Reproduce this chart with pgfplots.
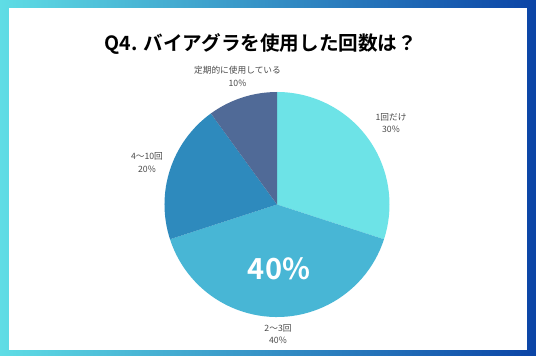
\documentclass[border=0pt]{standalone}
\usepackage{pgfplots}
\pgfplotsset{compat=1.18}
\usepackage{fontspec}
\setmainfont{Noto Sans CJK JP}[BoldFont={Noto Sans CJK JP Bold}]
\definecolor{bgL}{HTML}{5FDDE5}
\definecolor{bgR}{HTML}{0B44A6}
\definecolor{c1}{HTML}{6DE3E7}
\definecolor{c2}{HTML}{48B6D5}
\definecolor{c3}{HTML}{2E8ABD}
\definecolor{c4}{HTML}{506A97}
\definecolor{lbl}{HTML}{4A4A4A}
\begin{document}
\begin{tikzpicture}[x=1pt,y=1pt]
\shade[left color=bgL,right color=bgR] (0,0) rectangle (536,356);
\fill[white] (9,6) rectangle (527,348);
\node[font=\bfseries\fontsize{19.6}{22}\selectfont, text=black] at (261,312) {Q4. バイアグラを使用した回数は？};
\begin{axis}[at={(277pt,151.5pt)}, anchor=center, width=225pt, height=225pt,
  scale only axis, hide axis, xmin=-1, xmax=1, ymin=-1, ymax=1, clip=false]
% values: 30, 40, 20, 10 (percent) -> 3.6 deg each
\fill[c1] (axis cs:0,0) -- (axis cs:0,1) arc[start angle=90, delta angle=-3.6*30, radius=112.5pt] -- cycle;
\fill[c2] (axis cs:0,0) -- ++(90-3.6*30:112.5pt) arc[start angle=90-3.6*30, delta angle=-3.6*40, radius=112.5pt] -- cycle;
\fill[c3] (axis cs:0,0) -- ++(90-3.6*70:112.5pt) arc[start angle=90-3.6*70, delta angle=-3.6*20, radius=112.5pt] -- cycle;
\fill[c4] (axis cs:0,0) -- ++(90-3.6*90:112.5pt) arc[start angle=90-3.6*90, delta angle=-3.6*10, radius=112.5pt] -- cycle;
\end{axis}
\begin{scope}[every node/.style={font=\fontsize{8.7}{10}\selectfont, text=lbl}]
\node at (237.5,286) {定期的に使用している};
\node at (237.5,273) {10\%};
\node at (391,239) {1回だけ};
\node at (391,227) {30\%};
\node at (147,200) {4〜10回};
\node at (147,187) {20\%};
\node at (278,28) {2〜3回};
\node at (278,16) {40\%};
\end{scope}
\node[font=\bfseries\fontsize{29}{30}\selectfont, text=white] at (279,87) {40\%};
\end{tikzpicture}
\end{document}
